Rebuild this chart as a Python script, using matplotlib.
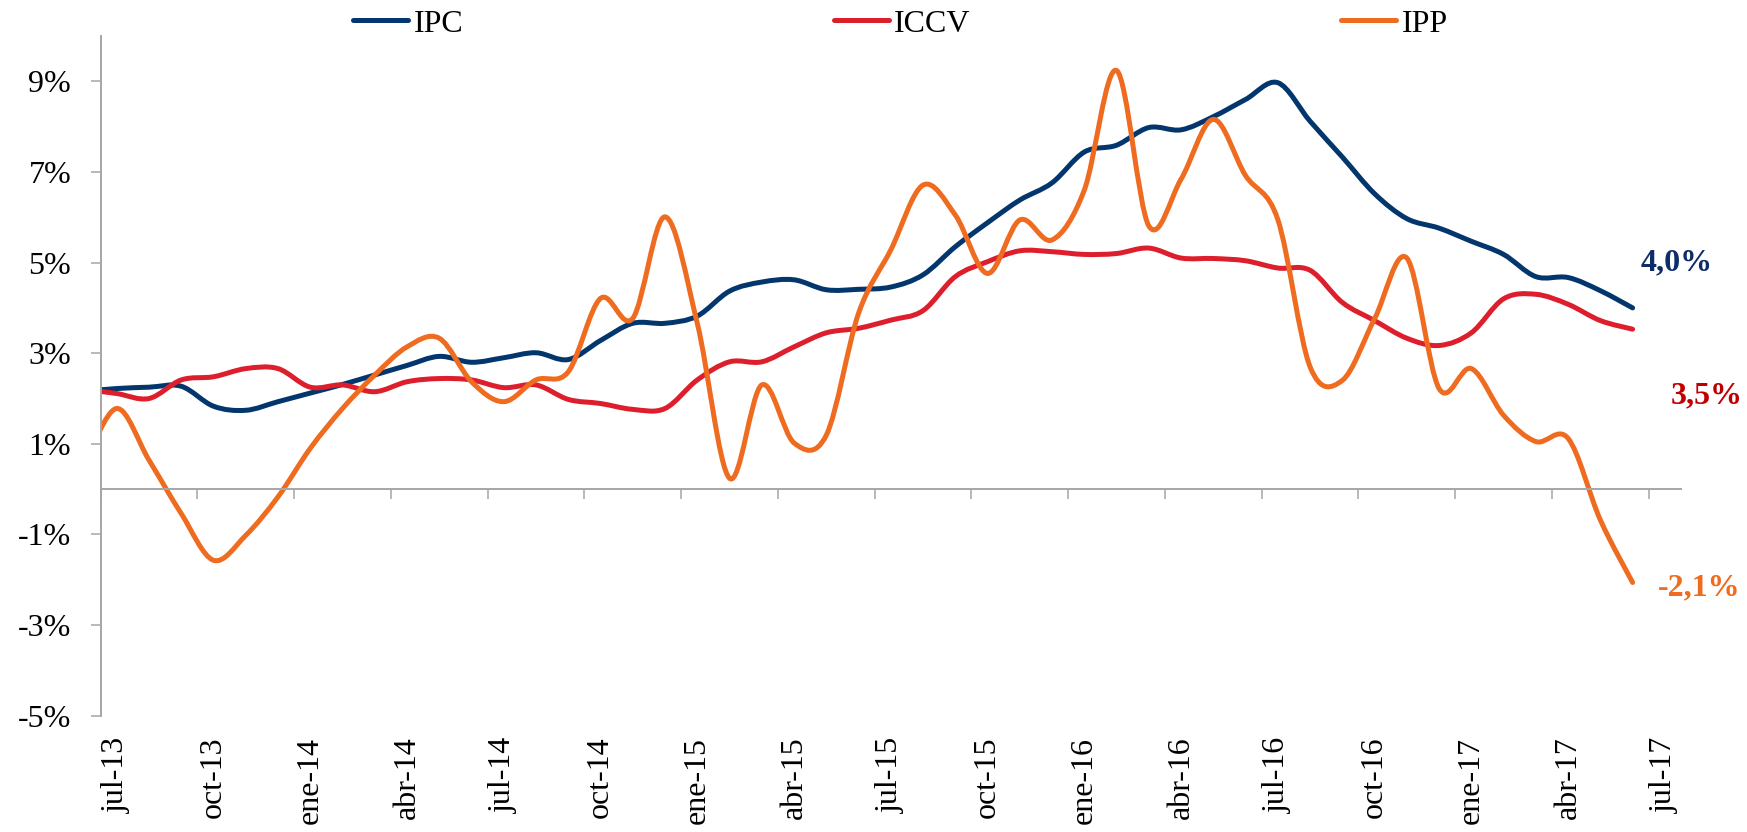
import numpy as np
import matplotlib
matplotlib.use("Agg")
import matplotlib.pyplot as plt
from matplotlib.path import Path
from matplotlib.patches import PathPatch
from matplotlib.lines import Line2D
from matplotlib.ticker import FuncFormatter

# ---------------- data (annual variation, %) ----------------
months = ["jun-13",
          "jul-13", "ago-13", "sep-13", "oct-13", "nov-13", "dic-13",
          "ene-14", "feb-14", "mar-14", "abr-14", "may-14", "jun-14",
          "jul-14", "ago-14", "sep-14", "oct-14", "nov-14", "dic-14",
          "ene-15", "feb-15", "mar-15", "abr-15", "may-15", "jun-15",
          "jul-15", "ago-15", "sep-15", "oct-15", "nov-15", "dic-15",
          "ene-16", "feb-16", "mar-16", "abr-16", "may-16", "jun-16",
          "jul-16", "ago-16", "sep-16", "oct-16", "nov-16", "dic-16",
          "ene-17", "feb-17", "mar-17", "abr-17", "may-17", "jun-17"]

ipc = [2.16,
       2.22, 2.25, 2.27, 1.83, 1.74, 1.93,
       2.12, 2.31, 2.52, 2.73, 2.93, 2.80,
       2.90, 3.01, 2.86, 3.28, 3.66, 3.66,
       3.82, 4.37, 4.57, 4.62, 4.40, 4.41,
       4.46, 4.73, 5.35, 5.88, 6.38, 6.76,
       7.44, 7.59, 7.98, 7.93, 8.22, 8.60,
       8.97, 8.12, 7.33, 6.52, 5.97, 5.76,
       5.47, 5.18, 4.69, 4.67, 4.38, 4.00]

iccv = [2.20,
        2.11, 2.00, 2.41, 2.48, 2.66, 2.66,
        2.25, 2.30, 2.15, 2.37, 2.44, 2.41,
        2.24, 2.30, 1.98, 1.89, 1.76, 1.78,
        2.41, 2.81, 2.81, 3.14, 3.45, 3.55,
        3.73, 3.94, 4.69, 5.02, 5.26, 5.24,
        5.18, 5.20, 5.32, 5.10, 5.09, 5.04,
        4.88, 4.83, 4.12, 3.72, 3.33, 3.17,
        3.45, 4.20, 4.30, 4.08, 3.72, 3.53]

ipp = [0.55,
       1.78, 0.64, -0.54, -1.57, -1.02, -0.17,
       0.90, 1.78, 2.52, 3.14, 3.33, 2.37,
       1.93, 2.41, 2.59, 4.21, 3.77, 6.01,
       3.66, 0.24, 2.30, 1.02, 1.19, 3.88,
       5.28, 6.71, 6.05, 4.76, 5.94, 5.50,
       6.60, 9.24, 5.81, 6.84, 8.16, 6.92,
       5.95, 2.70, 2.40, 3.76, 5.10, 2.22,
       2.66, 1.63, 1.05, 1.12, -0.68, -2.06]

series_names = ["IPC", "ICCV", "IPP"]
tick_labels = ["jul-13", "oct-13", "ene-14", "abr-14", "jul-14", "oct-14",
               "ene-15", "abr-15", "jul-15", "oct-15", "ene-16", "abr-16",
               "jul-16", "oct-16", "ene-17", "abr-17", "jul-17"]

# ---------------- styles ----------------
line_colors = ["#03366C", "#DD1F2D", "#EE6B20"]
label_colors = ["#0D2D68", "#C00000", "#EE6B20"]
label_offsets = [(8, 45), (38, -67), (25, -5)]   # pixels from last point
GRAY = "#A6A6A6"
FS = 23
LW = 3.6

plt.rcParams['font.family'] = ['Liberation Serif', 'DejaVu Serif']

fig = plt.figure(figsize=(17.47, 8.32), dpi=100)
ax = fig.add_axes([0.0576, 0.1398, 0.9046, 0.8169])

# x in months counted from the start of jul-13; monthly values sit at month centres
x = np.arange(len(months)) - 1 + 0.5


def smooth_path(xs, ys):
    """Excel-like smoothed line (Catmull-Rom as cubic Bezier)."""
    P = np.column_stack([xs, ys]).astype(float)
    n = len(P)
    verts = [P[0]]
    codes = [Path.MOVETO]
    for k in range(n - 1):
        pm = P[k - 1] if k > 0 else P[k]
        pp = P[k + 2] if k + 2 < n else P[k + 1]
        c1 = P[k] + (P[k + 1] - pm) / 6.0
        c2 = P[k + 1] - (pp - P[k]) / 6.0
        verts += [c1, c2, P[k + 1]]
        codes += [Path.CURVE4] * 3
    return Path(verts, codes)


handles = []
for name, vals, col, lcol, off in zip(series_names, [ipc, iccv, ipp],
                                      line_colors, label_colors, label_offsets):
    patch = PathPatch(smooth_path(x, vals), fill=False, edgecolor=col,
                      lw=LW, capstyle='round', joinstyle='round')
    ax.add_patch(patch)
    handles.append(Line2D([], [], color=col, lw=LW, solid_capstyle='round'))
    txt = f"{vals[-1]:.1f}%".replace(".", ",")
    ax.annotate(txt, xy=(x[-1], vals[-1]), xytext=off, textcoords='offset pixels',
                ha='left', va='center', fontsize=FS, fontweight='bold',
                color=lcol, annotation_clip=False)

ax.set_xlim(0, 49)
ax.set_ylim(-5, 10)

# y axis
ax.set_yticks(np.arange(-5, 10, 2))
ax.yaxis.set_major_formatter(FuncFormatter(lambda v, p: f"{v:.0f}%"))
ax.tick_params(axis='y', direction='out', length=7.2, width=1.1, color=GRAY,
               labelsize=FS, pad=14)

# x axis line at zero with tick marks
ax.spines['bottom'].set_position(('data', 0))
for s in ['left', 'bottom']:
    ax.spines[s].set_color(GRAY)
    ax.spines[s].set_linewidth(1.4)
for s in ['top', 'right']:
    ax.spines[s].set_visible(False)
ax.set_xticks(np.arange(0, 49, 3))
ax.set_xticklabels([])
ax.tick_params(axis='x', direction='out', length=7.2, width=1.1, color=GRAY)

# date labels at the bottom of the plot
sec = ax.secondary_xaxis('bottom')
sec.set_xticks(np.arange(0, 49, 3) + 0.5, tick_labels)
sec.tick_params(length=0, labelsize=FS, labelrotation=90, pad=15)
sec.spines['bottom'].set_visible(False)

fig.legend(handles, series_names, loc='center', bbox_to_anchor=(0.5155, 1 - 24 / 832),
           ncol=3, frameon=False, fontsize=FS, handlelength=1.72,
           handletextpad=0.17, columnspacing=11.6, borderpad=0)

fig.savefig("out.png", dpi=100, facecolor="white")
